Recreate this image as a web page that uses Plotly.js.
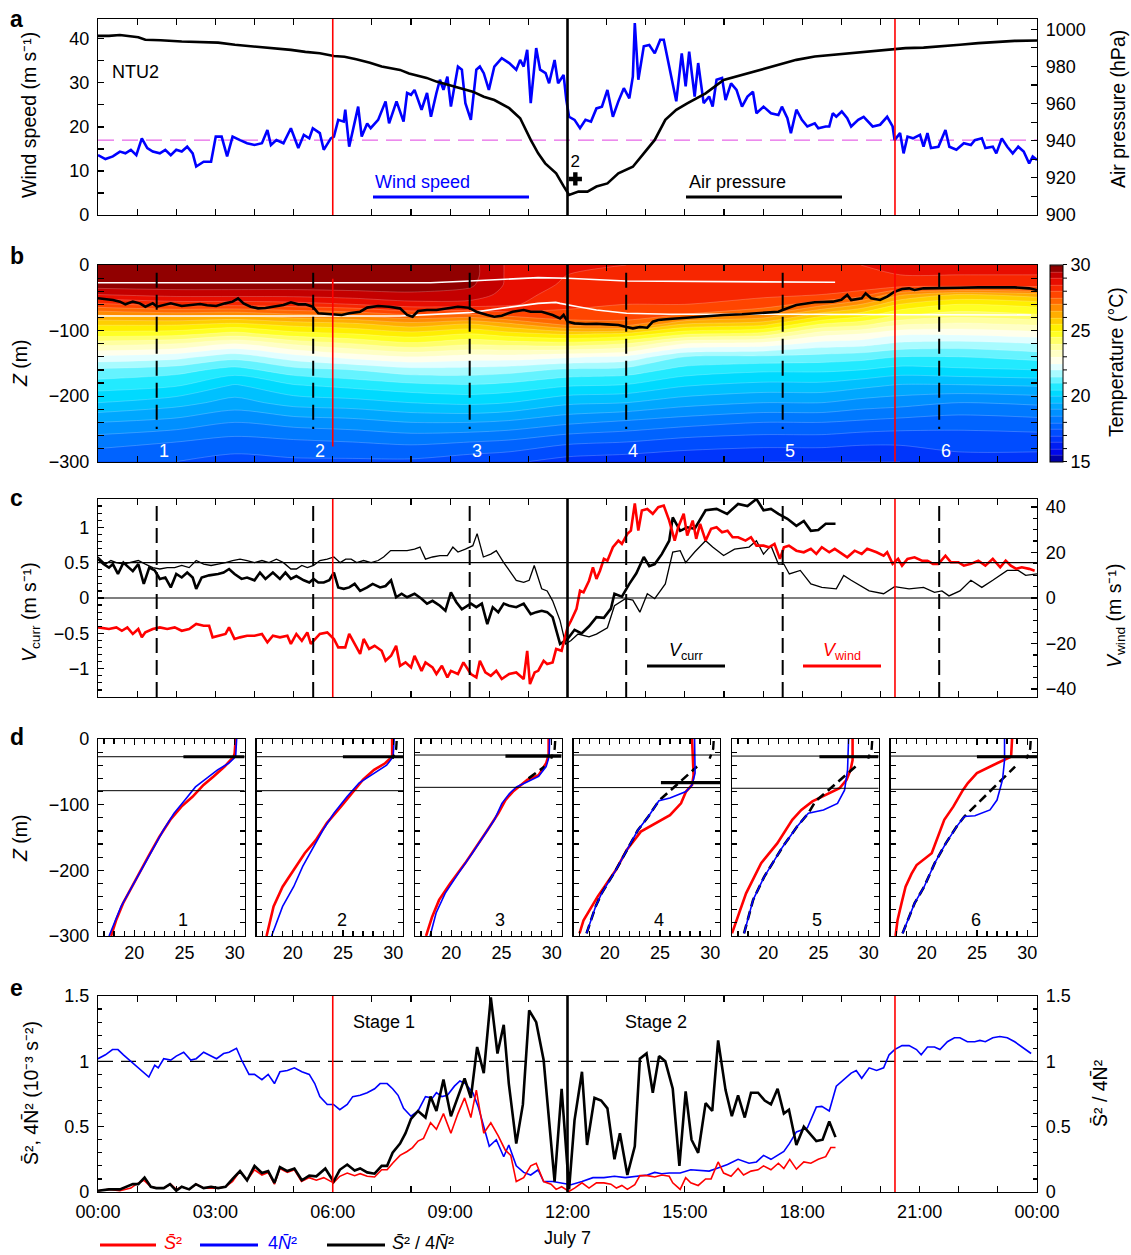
<!DOCTYPE html>
<html><head><meta charset="utf-8">
<script src="https://cdn.plot.ly/plotly-3.0.1.min.js"></script>
<style>html,body{margin:0;padding:0;background:#fff}#chart{width:1131px;height:1255px}</style>
</head><body><div id="chart"></div>
<script>
// ================= DATA =================
const tickHours = [0,3,6,9,12,15,18,21,24];
const tickLabels = ['00:00','03:00','06:00','09:00','12:00','15:00','18:00','21:00','00:00'];
const stageLines = [6.0, 20.37];
const eyeTime = 12.0;
const profileTimes = [1.5, 5.5, 9.5, 13.5, 17.5, 21.5];
const profileLabels = ['1','2','3','4','5','6'];
const windThreshold = 17.0;
const catMarkT = [12.2], catMarkP = [919.4], catMarkText = ['2'];

// panel a: wind speed (m/s) and air pressure (hPa), [hour, value]
const windSpeed = [[0.00,13.6],[0.19,12.7],[0.38,13.3],[0.56,14.4],[0.70,14.0],[0.84,14.8],[0.98,13.6],[1.12,17.4],[1.26,15.2],[1.40,14.4],[1.58,14.0],[1.72,14.8],[1.86,13.6],[2.00,14.8],[2.14,14.4],[2.28,15.5],[2.42,14.0],[2.51,11.0],[2.70,12.1],[2.89,12.1],[3.01,17.8],[3.16,17.8],[3.30,13.3],[3.44,17.8],[3.63,17.0],[3.81,16.3],[4.00,15.9],[4.19,16.3],[4.33,19.3],[4.42,15.9],[4.56,17.0],[4.74,16.3],[4.93,19.7],[5.12,15.2],[5.26,18.2],[5.40,17.4],[5.49,19.7],[5.67,18.6],[5.77,14.8],[5.95,17.4],[6.03,17.8],[6.14,21.6],[6.28,21.2],[6.32,23.9],[6.42,15.5],[6.65,24.6],[6.74,17.8],[6.88,20.8],[6.97,19.7],[7.16,21.6],[7.35,25.8],[7.44,20.8],[7.63,25.8],[7.72,23.5],[7.81,21.2],[7.90,27.7],[8.00,27.3],[8.09,28.4],[8.27,23.9],[8.41,27.7],[8.51,22.3],[8.65,27.7],[8.74,30.7],[8.83,28.4],[8.93,31.4],[9.02,24.6],[9.20,33.7],[9.30,33.0],[9.39,25.4],[9.53,21.6],[9.67,33.0],[9.76,33.7],[9.86,32.2],[9.99,28.4],[10.13,33.7],[10.32,35.6],[10.51,34.5],[10.69,33.0],[10.79,35.2],[10.88,33.7],[10.97,37.5],[11.06,25.4],[11.20,37.9],[11.30,33.0],[11.44,32.2],[11.53,29.9],[11.67,35.2],[11.76,29.9],[11.90,31.8],[11.97,26.1],[12.04,22.3],[12.18,21.6],[12.32,19.7],[12.46,21.6],[12.60,21.2],[12.74,24.2],[12.88,24.6],[13.02,28.4],[13.16,22.3],[13.30,25.8],[13.44,28.8],[13.58,26.5],[13.67,31.4],[13.72,43.6],[13.81,30.7],[13.95,38.3],[14.09,38.6],[14.23,36.7],[14.37,39.8],[14.46,39.8],[14.60,33.7],[14.78,25.8],[14.92,36.7],[15.02,29.2],[15.11,37.1],[15.25,26.9],[15.34,34.5],[15.48,25.4],[15.62,26.9],[15.71,24.6],[15.81,30.7],[15.95,31.1],[16.04,26.1],[16.18,29.9],[16.32,28.4],[16.46,24.6],[16.60,26.9],[16.74,28.0],[16.83,23.1],[17.01,24.6],[17.20,23.1],[17.39,22.7],[17.48,24.6],[17.62,22.0],[17.71,18.6],[17.85,23.9],[17.99,21.6],[18.13,20.1],[18.32,20.8],[18.41,19.7],[18.60,20.1],[18.69,20.1],[18.78,23.1],[18.87,22.3],[19.01,23.5],[19.15,22.0],[19.25,20.1],[19.43,21.6],[19.57,22.3],[19.80,20.1],[19.99,20.5],[20.17,22.3],[20.31,20.1],[20.36,17.0],[20.50,18.6],[20.59,14.0],[20.69,17.8],[20.83,17.4],[21.01,18.2],[21.10,15.5],[21.20,18.6],[21.29,15.2],[21.48,15.5],[21.66,19.3],[21.76,15.5],[21.94,14.8],[22.13,16.3],[22.31,15.9],[22.41,17.0],[22.59,17.4],[22.68,15.2],[22.87,15.5],[22.96,14.0],[23.10,17.4],[23.24,15.5],[23.38,14.0],[23.52,15.5],[23.66,14.4],[23.80,11.7],[23.89,13.3],[24.00,12.5]];
const airPressure = [[0.00,996.4],[0.28,996.4],[0.56,996.9],[0.80,996.2],[1.03,995.7],[1.21,994.3],[1.60,994.1],[2.14,993.4],[2.60,993.2],[3.07,992.8],[3.50,991.6],[3.99,990.7],[4.40,989.6],[4.93,988.9],[5.30,987.8],[5.67,987.1],[6.03,985.6],[6.30,985.2],[6.60,983.8],[6.95,982.0],[7.25,979.9],[7.72,978.1],[7.95,976.2],[8.18,974.9],[8.40,973.8],[8.65,971.8],[9.11,969.1],[9.58,966.4],[9.86,963.7],[10.13,961.9],[10.51,957.5],[10.79,952.1],[11.06,940.4],[11.25,933.2],[11.43,927.8],[11.71,922.4],[11.90,915.5],[12.04,910.8],[12.28,912.6],[12.51,912.6],[12.74,915.3],[13.02,917.0],[13.30,922.4],[13.67,926.0],[13.95,933.2],[14.23,940.4],[14.50,951.2],[14.78,956.6],[15.06,960.1],[15.53,965.5],[15.99,972.7],[16.46,975.4],[16.92,978.1],[17.39,980.8],[17.85,983.5],[18.32,985.3],[18.78,986.2],[19.25,987.4],[19.71,988.0],[20.17,988.9],[20.64,989.8],[21.10,990.1],[21.57,990.7],[22.03,991.6],[22.50,992.5],[22.96,993.0],[23.43,993.7],[24.00,993.9]];

// panel b: temperature field (°C); columns = times, rows = depths
const tempTimes = [0, 2, 3.5, 5, 6.5, 8, 9.5, 10.5, 12, 13.5, 15, 17, 18.5, 19.5, 20.5, 22, 24];
const tempDepths = [0, -15, -30, -45, -60, -75, -90, -105, -120, -140, -160, -185, -210, -240, -270, -300];
const tempProfiles = [
 [30.0,30.0,29.8,29.0,27.9,26.6,25.6,24.8,23.7,22.4,21.4,20.7,20.0,19.0,18.2,17.6],
 [30.0,30.0,29.8,29.2,28.2,26.8,25.6,24.7,23.5,22.2,21.2,20.5,19.7,18.8,18.0,17.5],
 [30.0,30.0,29.8,29.2,28.2,26.7,25.4,24.3,23.0,21.7,20.8,19.9,19.3,18.5,17.8,17.3],
 [30.0,30.0,29.8,29.2,28.3,27.0,25.7,24.8,23.6,22.3,21.3,20.4,19.7,18.7,17.9,17.4],
 [30.0,30.0,29.8,29.3,28.5,27.2,25.9,25.0,24.0,22.7,21.5,20.6,19.8,18.8,18.0,17.4],
 [29.9,29.9,29.8,29.4,28.8,27.6,26.3,25.3,24.4,23.0,21.8,20.8,20.0,19.0,18.1,17.4],
 [29.7,29.7,29.6,29.3,28.8,27.5,26.0,25.0,24.1,22.8,21.8,20.9,20.1,19.0,18.0,17.2],
 [28.9,28.9,28.9,28.8,28.6,27.8,26.4,25.3,24.2,22.8,21.7,20.8,20.0,18.9,17.9,17.1],
 [28.6,28.5,28.4,28.2,28.1,27.9,27.2,25.6,24.3,22.6,21.4,20.5,19.6,18.6,17.6,16.8],
 [28.5,28.4,28.3,28.2,28.0,27.8,27.3,25.4,24.0,22.4,21.3,20.4,19.5,18.4,17.5,16.7],
 [28.5,28.4,28.3,28.2,28.0,27.5,26.0,24.6,23.0,21.5,20.8,20.0,19.2,18.2,17.3,16.6],
 [28.5,28.4,28.3,28.1,27.8,27.0,25.7,24.3,22.8,21.4,20.6,19.8,19.0,18.0,17.2,16.5],
 [28.5,28.4,28.3,28.0,27.2,25.8,24.5,23.2,22.3,21.3,20.6,19.8,19.0,18.0,17.2,16.5],
 [28.5,28.4,28.3,27.8,26.5,25.3,24.2,23.0,22.2,21.2,20.5,19.6,18.8,17.9,17.1,16.5],
 [28.6,28.5,28.4,26.6,25.5,24.6,23.6,22.6,21.9,21.0,20.3,19.4,18.7,17.8,17.1,16.5],
 [28.6,28.5,28.4,26.0,25.0,24.3,23.4,22.6,21.8,21.0,20.4,19.4,18.5,17.7,17.2,16.8],
 [28.6,28.5,28.4,26.3,25.2,24.5,23.6,22.8,22.0,21.2,20.5,19.5,18.6,17.8,17.2,16.8]
];
const mixedLayer = [[0,-50.8],[0.19,-51.8],[0.38,-53.4],[0.56,-55.9],[0.70,-60.0],[0.89,-55.9],[1.07,-58.5],[1.21,-63.6],[1.40,-58.5],[1.51,-63.6],[1.68,-61.0],[1.86,-58.5],[2.14,-62.5],[2.33,-61.0],[2.61,-59.5],[2.79,-61.5],[3.02,-62.5],[3.25,-58.5],[3.44,-55.9],[3.58,-50.8],[3.72,-58.5],[3.90,-63.6],[4.09,-66.1],[4.28,-65.5],[4.51,-63.6],[4.74,-61.0],[4.93,-56.9],[5.12,-60.0],[5.30,-60.0],[5.49,-63.6],[5.63,-73.7],[5.86,-74.7],[6.04,-74.7],[6.23,-76.2],[6.42,-73.7],[6.70,-71.2],[6.88,-65.0],[7.16,-62.5],[7.44,-63.6],[7.72,-66.1],[7.90,-76.2],[8.04,-78.8],[8.18,-70.2],[8.41,-68.6],[8.65,-68.6],[8.93,-66.1],[9.20,-63.6],[9.48,-65.1],[9.67,-71.2],[9.95,-76.2],[10.13,-78.8],[10.32,-77.3],[10.60,-71.2],[10.88,-68.6],[11.06,-71.2],[11.34,-71.2],[11.62,-76.2],[11.81,-81.4],[11.90,-76.2],[12.00,-86.4],[12.18,-89.0],[12.46,-90.0],[12.74,-89.5],[13.02,-90.5],[13.30,-91.5],[13.51,-94.6],[13.67,-96.6],[13.85,-94.6],[14.04,-95.6],[14.18,-86.4],[14.32,-83.9],[14.60,-82.3],[15.06,-80.3],[15.53,-77.8],[16.00,-76.2],[16.46,-75.2],[16.92,-73.7],[17.39,-71.2],[17.50,-68.6],[17.85,-61.0],[18.32,-56.9],[18.78,-55.9],[19.00,-53.0],[19.15,-45.7],[19.25,-53.4],[19.52,-50.8],[19.62,-43.2],[19.76,-50.8],[19.99,-53.4],[20.17,-48.3],[20.36,-40.7],[20.55,-36.6],[20.73,-35.6],[20.87,-38.1],[21.10,-35.6],[21.57,-34.6],[22.03,-34.6],[22.50,-34.1],[22.96,-34.1],[23.43,-34.1],[23.80,-35.6],[24.00,-38.1]];
const upperWhite = [[0,-27],[8.5,-27],[9.5,-24.4],[10.5,-21],[11.25,-19.3],[12.0,-20.3],[12.6,-22],[13.5,-24.4],[18.84,-26.4]];
const lowerWhite = [[0,-77.8],[7.72,-77.8],[9.48,-72.7],[10.5,-65.1],[11.25,-58.5],[11.7,-57],[11.81,-58.5],[12.27,-63.6],[12.74,-68.6],[13.51,-73.7],[14.6,-75.2],[17.5,-75.2],[23.85,-76.2]];
const colorbarLabels = [15, 20, 25, 30];
const colorbarMinor = [16,17,18,19,21,22,23,24,26,27,28,29];

// panel c: current speed (m/s, thick & thin) and wind component (m/s)
const currThick = [[0.00,0.55],[0.14,0.48],[0.28,0.43],[0.38,0.48],[0.51,0.34],[0.65,0.50],[0.79,0.43],[0.89,0.38],[1.03,0.48],[1.17,0.20],[1.31,0.43],[1.45,0.39],[1.58,0.27],[1.72,0.29],[1.86,0.15],[2.00,0.34],[2.14,0.29],[2.28,0.36],[2.42,0.29],[2.51,0.13],[2.65,0.29],[2.84,0.32],[3.07,0.34],[3.21,0.36],[3.35,0.41],[3.49,0.34],[3.67,0.27],[3.81,0.29],[4.00,0.25],[4.14,0.36],[4.28,0.27],[4.47,0.36],[4.65,0.27],[4.79,0.36],[4.93,0.27],[5.07,0.31],[5.26,0.25],[5.40,0.22],[5.51,0.27],[5.63,0.22],[5.77,0.22],[5.91,0.25],[6.03,0.36],[6.14,0.15],[6.28,0.13],[6.42,0.15],[6.56,0.20],[6.70,0.10],[6.88,0.15],[7.02,0.20],[7.21,0.15],[7.35,0.17],[7.49,0.25],[7.62,0.01],[7.76,0.06],[7.90,0.01],[8.09,0.06],[8.27,-0.01],[8.41,-0.08],[8.55,-0.04],[8.74,-0.11],[8.88,-0.18],[9.02,0.08],[9.16,-0.06],[9.30,-0.16],[9.53,-0.08],[9.67,-0.13],[9.81,-0.08],[9.95,-0.37],[10.09,-0.13],[10.23,-0.20],[10.37,-0.08],[10.51,-0.11],[10.69,-0.13],[10.88,-0.08],[11.06,-0.23],[11.20,-0.20],[11.34,-0.18],[11.48,-0.20],[11.62,-0.27],[11.81,-0.65],[12.00,-0.58],[12.18,-0.45],[12.36,-0.50],[12.55,-0.40],[12.74,-0.27],[12.93,-0.28],[13.11,-0.15],[13.20,0.06],[13.39,0.02],[13.58,0.20],[13.76,0.35],[13.95,0.58],[14.09,0.45],[14.23,0.48],[14.41,0.62],[14.60,0.81],[14.69,1.14],[14.88,0.95],[15.06,1.00],[15.25,0.98],[15.53,1.24],[15.81,1.26],[16.08,1.19],[16.36,1.33],[16.60,1.30],[16.83,1.40],[17.01,1.24],[17.20,1.26],[17.39,1.19],[17.62,1.12],[17.85,1.02],[18.04,1.09],[18.22,0.95],[18.41,0.96],[18.60,1.05],[18.85,1.05]];
const currThin = [[0.00,0.58],[0.19,0.48],[0.33,0.53],[0.47,0.50],[0.65,0.48],[0.84,0.50],[1.03,0.53],[1.21,0.48],[1.40,0.43],[1.58,0.41],[1.77,0.43],[1.96,0.43],[2.14,0.46],[2.33,0.43],[2.51,0.53],[2.70,0.48],[2.89,0.46],[3.07,0.48],[3.26,0.50],[3.44,0.53],[3.63,0.55],[3.81,0.53],[4.00,0.50],[4.19,0.53],[4.37,0.50],[4.56,0.55],[4.74,0.50],[4.93,0.41],[5.07,0.41],[5.21,0.46],[5.35,0.43],[5.51,0.46],[5.67,0.53],[5.86,0.55],[6.03,0.58],[6.19,0.50],[6.33,0.55],[6.47,0.55],[6.61,0.50],[6.79,0.53],[6.98,0.50],[7.16,0.53],[7.30,0.58],[7.48,0.67],[7.72,0.67],[7.90,0.67],[8.09,0.69],[8.23,0.72],[8.37,0.55],[8.55,0.58],[8.74,0.60],[8.93,0.60],[9.07,0.72],[9.20,0.65],[9.39,0.69],[9.58,0.74],[9.69,0.91],[9.85,0.58],[10.04,0.62],[10.18,0.67],[10.37,0.50],[10.51,0.39],[10.69,0.25],[10.88,0.22],[11.02,0.25],[11.15,0.46],[11.34,0.13],[11.48,0.10],[11.62,-0.04],[11.81,-0.32],[11.95,-0.65],[12.09,-0.60],[12.27,-0.51],[12.55,-0.55],[12.74,-0.51],[13.02,-0.42],[13.20,-0.11],[13.48,-0.01],[13.67,-0.03],[13.85,-0.20],[14.04,0.06],[14.23,-0.01],[14.50,0.20],[14.69,0.65],[14.88,0.67],[15.02,0.50],[15.25,0.65],[15.53,0.81],[15.71,0.72],[15.99,0.60],[16.27,0.69],[16.64,0.72],[16.83,0.81],[17.01,0.62],[17.20,0.74],[17.39,0.48],[17.53,0.48],[17.67,0.34],[17.95,0.39],[18.22,0.20],[18.50,0.15],[18.87,0.13],[19.06,0.32],[19.25,0.25],[19.71,0.10],[20.08,0.06],[20.36,0.16],[20.73,0.13],[21.10,0.15],[21.38,0.08],[21.57,0.10],[21.75,0.03],[22.03,0.10],[22.31,0.25],[22.59,0.15],[22.87,0.25],[23.24,0.39],[23.52,0.39],[23.71,0.32],[24.00,0.34]];
const windVel = [[0.00,-12.9],[0.28,-13.6],[0.47,-12.9],[0.61,-14.4],[0.75,-12.9],[0.89,-15.8],[1.03,-13.6],[1.12,-17.3],[1.21,-15.1],[1.40,-13.6],[1.58,-12.9],[1.77,-13.6],[1.96,-12.9],[2.14,-14.4],[2.33,-13.6],[2.51,-11.4],[2.70,-12.2],[2.84,-12.2],[2.93,-17.3],[3.07,-16.6],[3.26,-15.8],[3.35,-12.9],[3.49,-18.0],[3.63,-17.3],[3.81,-16.6],[4.00,-16.6],[4.19,-15.8],[4.33,-19.5],[4.47,-16.6],[4.65,-17.3],[4.84,-16.6],[4.93,-20.2],[5.07,-15.8],[5.21,-18.8],[5.35,-15.1],[5.44,-20.2],[5.58,-17.3],[5.67,-15.8],[5.86,-15.1],[6.03,-18.0],[6.14,-21.7],[6.32,-21.7],[6.42,-15.8],[6.56,-20.2],[6.70,-24.6],[6.79,-18.0],[6.93,-22.4],[7.07,-21.0],[7.25,-23.2],[7.35,-27.6],[7.49,-25.4],[7.62,-21.0],[7.72,-29.8],[7.86,-28.3],[8.00,-30.5],[8.09,-25.4],[8.27,-32.0],[8.37,-28.3],[8.55,-30.5],[8.65,-33.4],[8.79,-29.8],[8.93,-34.9],[9.02,-32.0],[9.20,-33.4],[9.34,-28.3],[9.53,-33.4],[9.67,-34.9],[9.76,-27.6],[9.90,-32.7],[10.04,-34.2],[10.18,-32.0],[10.32,-35.6],[10.51,-33.4],[10.69,-32.7],[10.88,-35.6],[10.97,-23.2],[11.04,-37.8],[11.16,-32.7],[11.25,-32.0],[11.39,-27.6],[11.48,-29.0],[11.62,-28.3],[11.71,-22.4],[11.85,-23.2],[12.00,-12.9],[12.09,-10.0],[12.23,-4.8],[12.32,3.2],[12.41,2.5],[12.55,7.6],[12.65,13.5],[12.74,8.4],[12.83,12.0],[12.93,17.2],[13.02,16.4],[13.16,22.3],[13.30,25.2],[13.39,23.8],[13.53,28.2],[13.62,29.6],[13.72,41.6],[13.81,29.6],[13.90,38.4],[14.04,39.1],[14.18,37.0],[14.32,39.9],[14.46,40.6],[14.60,34.0],[14.74,25.2],[14.83,31.1],[14.97,37.0],[15.06,27.4],[15.20,34.0],[15.29,26.0],[15.39,32.6],[15.53,25.2],[15.67,30.4],[15.81,31.1],[15.95,28.9],[16.09,29.6],[16.22,26.7],[16.36,26.7],[16.55,25.2],[16.69,26.7],[16.83,23.0],[17.01,23.0],[17.15,22.3],[17.29,23.8],[17.43,17.2],[17.53,22.3],[17.66,23.0],[17.85,20.8],[18.04,20.1],[18.22,21.6],[18.36,19.4],[18.50,22.3],[18.69,20.1],[18.83,21.6],[18.97,20.1],[19.15,17.9],[19.34,20.8],[19.52,19.4],[19.66,21.6],[19.90,20.1],[20.08,18.6],[20.17,20.1],[20.31,15.0],[20.45,17.2],[20.55,14.2],[20.69,17.2],[20.87,17.9],[21.06,16.4],[21.20,16.4],[21.34,15.0],[21.48,15.0],[21.66,18.6],[21.80,15.7],[21.99,15.7],[22.13,14.2],[22.31,15.0],[22.50,16.4],[22.68,14.2],[22.87,17.2],[23.06,13.5],[23.20,16.4],[23.33,14.2],[23.47,12.8],[23.61,13.5],[23.80,12.8],[23.94,12.0]];

// panel d: temperature profiles (°C vs depth m)
const profRedT = [
 [30.1,30.0,29.9,29.0,27.9,26.9,25.8,24.7,23.6,22.5,21.4,20.5,19.6,18.9,18.2,17.7],
 [29.9,29.9,29.2,28.1,27.0,25.9,24.8,23.4,22.3,21.2,20.1,19.0,18.1,17.75,17.4],
 [29.7,29.7,29.45,28.7,27.6,26.9,26.15,25.4,24.7,23.6,22.5,21.4,19.9,18.8,18.1,17.5],
 [28.2,28.25,28.35,28.2,27.6,27.1,26.0,23.1,21.7,20.6,19.5,18.8,17.4,17.0],
 [28.4,28.4,28.2,27.8,27.1,25.8,24.4,23.3,22.4,20.9,19.3,17.8,17.1,16.4],
 [28.5,28.4,27.0,25.0,24.1,23.6,22.65,21.75,20.5,19.0,18.5,17.9,17.5,17.1,16.9]
];
const profRedZ = [
 [0,-22,-27,-42,-57,-70,-88,-103,-123,-149,-179,-205,-230,-250,-276,-300],
 [0,-27,-37,-47,-62,-83,-103,-128,-154,-174,-199,-225,-255,-276,-300],
 [0,-24,-37,-55,-62,-70,-80,-93,-113,-139,-164,-189,-220,-245,-271,-300],
 [0,-22,-55,-70,-80,-98,-116,-141,-169,-200,-225,-240,-276,-296],
 [0,-32,-47,-62,-75,-85,-95,-108,-123,-159,-189,-235,-265,-296],
 [0,-27,-37,-52,-67,-78,-103,-123,-174,-192,-205,-225,-250,-276,-300]
];
const profBlueT = [
 [30.2,30.1,29.4,28.3,27.2,26.1,25.05,23.97,22.9,21.8,20.7,19.6,18.7,17.5],
 [30.1,30.0,29.35,28.1,26.6,25.4,24.1,23.0,21.9,21.0,20.1,19.0,17.9],
 [29.8,29.75,29.45,28.7,27.6,26.5,25.8,25.05,24.3,23.2,22.1,20.7,19.4,18.5,17.9],
 [28.45,28.5,28.5,28.2,27.6,26.0,24.9,23.85,22.8,21.9,20.6,19.2,18.6,17.7],
 [28.0,27.9,27.6,26.9,25.5,24.0,22.9,21.45,19.6,18.5,17.6],
 [27.75,27.75,27.55,27.0,26.3,24.8,23.75,23.0,21.9,20.8,19.75,18.8,17.6]
];
const profBlueZ = [
 [0,-27,-37,-47,-60,-73,-93,-113,-139,-169,-199,-230,-255,-300],
 [0,-27,-40,-52,-67,-88,-113,-139,-169,-194,-225,-255,-300],
 [0,-27,-42,-57,-65,-73,-83,-98,-123,-149,-174,-205,-235,-265,-300],
 [0,-32,-52,-70,-80,-90,-94,-118,-139,-164,-200,-235,-255,-296],
 [0,-47,-78,-98,-108,-113,-133,-164,-210,-245,-296],
 [0,-32,-62,-93,-108,-117,-118,-133,-159,-189,-225,-250,-296]
];
const profDashT = [
 [],
 [],
 [27.7,29.3],
 [17.7,18.6,19.2,20.6,21.9,22.8,23.85,24.9,28.7],
 [17.6,18.5,19.6,21.45,22.9,24.0,24.7,28.7],
 [17.6,18.8,19.75,20.8,21.9,23.0,23.75,28.8]
];
const profDashZ = [
 [],
 [],
 [-60,-42],
 [-296,-255,-235,-200,-164,-139,-118,-94,-42],
 [-296,-245,-210,-164,-133,-113,-95,-42],
 [-296,-250,-225,-189,-159,-133,-118,-42]
];
const capT = [30.35, 30.3, 29.95];
const capZ = [-3, -15, -30];
const capProfiles = [1, 2, 3, 4, 5];
const thickStartT = [24.9, 25.0, 25.4, 25.1, 25.1, 25.0];
const thickEndT = 31;
const thickZ = [-27, -27, -26, -66.5, -27, -27];
const thinUpperZ = [-27, -27, -24.4, -24.4, -26, -26];
const thinLowerZ = [-78.7, -78.7, -73.6, -74, -75, -76.6];

// panel e: shear S^2, 4N^2 (1e-3 s^-2) and ratio
const shearSq = [[0.00,0.01],[0.28,0.02],[0.56,0.01],[0.84,0.03],[0.98,0.06],[1.17,0.09],[1.35,0.04],[1.49,0.03],[1.68,0.03],[1.86,0.06],[2.00,0.02],[2.14,0.04],[2.33,0.02],[2.51,0.06],[2.70,0.03],[2.89,0.03],[3.07,0.03],[3.26,0.04],[3.44,0.08],[3.63,0.16],[3.81,0.09],[4.00,0.17],[4.19,0.13],[4.35,0.15],[4.51,0.06],[4.65,0.18],[4.84,0.15],[5.02,0.17],[5.20,0.08],[5.40,0.11],[5.58,0.09],[5.77,0.11],[6.02,0.07],[6.18,0.12],[6.37,0.145],[6.56,0.125],[6.70,0.14],[6.88,0.12],[7.07,0.115],[7.25,0.17],[7.39,0.17],[7.53,0.22],[7.72,0.28],[7.90,0.31],[8.04,0.34],[8.18,0.39],[8.32,0.41],[8.50,0.53],[8.65,0.48],[8.83,0.60],[9.02,0.45],[9.20,0.60],[9.37,0.72],[9.53,0.57],[9.67,0.78],[9.86,0.45],[10.04,0.53],[10.23,0.43],[10.41,0.32],[10.55,0.28],[10.69,0.08],[10.88,0.11],[11.06,0.20],[11.20,0.22],[11.39,0.08],[11.58,0.06],[11.71,0.02],[11.85,0.04],[12.04,0.005],[12.18,0.03],[12.37,0.07],[12.55,0.03],[12.74,0.07],[12.93,0.07],[13.11,0.06],[13.25,0.03],[13.39,0.05],[13.53,0.02],[13.72,0.056],[13.85,0.125],[14.04,0.125],[14.23,0.115],[14.41,0.13],[14.60,0.12],[14.69,0.07],[14.88,0.02],[15.02,0.11],[15.15,0.07],[15.34,0.05],[15.53,0.10],[15.67,0.10],[15.85,0.23],[15.99,0.145],[16.18,0.12],[16.36,0.18],[16.50,0.13],[16.69,0.16],[16.87,0.17],[17.01,0.20],[17.20,0.17],[17.39,0.22],[17.53,0.18],[17.68,0.25],[17.85,0.175],[18.04,0.23],[18.22,0.22],[18.41,0.25],[18.60,0.27],[18.73,0.34],[18.85,0.34]];
const stratSq4 = [[0.00,1.02],[0.19,1.05],[0.37,1.09],[0.51,1.09],[0.65,1.05],[0.84,1.00],[1.02,0.95],[1.16,0.91],[1.30,0.88],[1.45,0.97],[1.54,0.95],[1.68,1.02],[1.86,1.01],[2.00,1.04],[2.19,1.07],[2.37,1.01],[2.51,1.02],[2.70,1.07],[2.84,1.05],[3.03,1.02],[3.21,1.06],[3.35,1.07],[3.54,1.10],[3.67,1.01],[3.86,0.90],[4.00,0.90],[4.19,0.86],[4.35,0.90],[4.51,0.83],[4.65,0.92],[4.84,0.93],[5.02,0.95],[5.21,0.92],[5.40,0.90],[5.54,0.83],[5.67,0.73],[5.86,0.67],[6.02,0.67],[6.18,0.63],[6.37,0.67],[6.51,0.73],[6.70,0.74],[6.88,0.76],[7.07,0.79],[7.21,0.83],[7.39,0.83],[7.53,0.79],[7.67,0.74],[7.81,0.64],[8.00,0.58],[8.18,0.62],[8.37,0.73],[8.55,0.72],[8.65,0.76],[8.79,0.73],[8.93,0.74],[9.11,0.81],[9.25,0.85],[9.39,0.83],[9.58,0.76],[9.72,0.65],[9.86,0.50],[10.00,0.35],[10.18,0.40],[10.37,0.27],[10.50,0.36],[10.69,0.20],[10.88,0.15],[11.06,0.13],[11.25,0.17],[11.39,0.08],[11.62,0.08],[11.85,0.07],[12.09,0.056],[12.37,0.08],[12.65,0.11],[12.93,0.11],[13.20,0.12],[13.48,0.11],[13.76,0.12],[14.04,0.13],[14.23,0.15],[14.41,0.14],[14.60,0.145],[14.88,0.145],[15.15,0.17],[15.43,0.165],[15.62,0.16],[15.81,0.18],[16.09,0.21],[16.36,0.25],[16.64,0.22],[16.83,0.23],[17.01,0.28],[17.20,0.25],[17.39,0.285],[17.53,0.31],[17.67,0.37],[17.85,0.46],[18.13,0.49],[18.36,0.65],[18.50,0.655],[18.69,0.62],[18.87,0.81],[19.06,0.86],[19.25,0.91],[19.38,0.93],[19.52,0.87],[19.71,0.95],[19.90,0.93],[20.08,0.95],[20.22,1.05],[20.36,1.09],[20.55,1.12],[20.73,1.12],[20.92,1.09],[21.04,1.05],[21.20,1.11],[21.38,1.11],[21.52,1.09],[21.71,1.15],[21.89,1.18],[22.03,1.18],[22.22,1.15],[22.41,1.15],[22.54,1.16],[22.68,1.15],[22.87,1.18],[23.05,1.19],[23.24,1.18],[23.43,1.15],[23.61,1.11],[23.85,1.06]];
const richRatio = [[0.00,0.01],[0.28,0.02],[0.56,0.02],[0.75,0.04],[0.89,0.06],[1.03,0.06],[1.19,0.11],[1.35,0.04],[1.49,0.03],[1.68,0.03],[1.84,0.06],[2.00,0.01],[2.14,0.04],[2.33,0.02],[2.50,0.06],[2.70,0.03],[2.89,0.04],[3.07,0.03],[3.26,0.04],[3.44,0.10],[3.63,0.16],[3.81,0.09],[4.00,0.20],[4.19,0.145],[4.35,0.16],[4.51,0.07],[4.65,0.19],[4.84,0.16],[5.02,0.18],[5.21,0.09],[5.40,0.125],[5.58,0.12],[5.81,0.18],[6.02,0.08],[6.18,0.17],[6.37,0.21],[6.56,0.165],[6.70,0.18],[6.88,0.15],[7.07,0.14],[7.25,0.20],[7.39,0.20],[7.53,0.30],[7.72,0.37],[7.86,0.45],[8.00,0.56],[8.18,0.62],[8.37,0.57],[8.50,0.73],[8.65,0.62],[8.83,0.86],[9.02,0.58],[9.20,0.73],[9.37,0.87],[9.53,0.72],[9.69,1.11],[9.86,0.91],[10.04,1.49],[10.21,1.06],[10.37,1.28],[10.50,0.83],[10.69,0.37],[10.86,0.67],[11.02,1.39],[11.20,1.30],[11.39,1.01],[11.67,0.08],[11.85,0.79],[12.04,0.02],[12.18,0.55],[12.37,0.92],[12.50,0.36],[12.69,0.72],[12.86,0.70],[13.02,0.64],[13.20,0.25],[13.34,0.45],[13.53,0.13],[13.72,0.35],[13.85,1.02],[14.02,1.06],[14.18,0.76],[14.34,1.04],[14.50,1.00],[14.69,0.79],[14.86,0.20],[15.02,0.77],[15.17,0.40],[15.34,0.30],[15.53,0.68],[15.70,0.62],[15.85,1.16],[16.04,0.78],[16.20,0.58],[16.36,0.74],[16.53,0.57],[16.69,0.76],[16.87,0.76],[17.04,0.70],[17.20,0.67],[17.37,0.79],[17.53,0.60],[17.66,0.63],[17.85,0.36],[18.04,0.50],[18.22,0.44],[18.36,0.39],[18.52,0.40],[18.69,0.54],[18.85,0.42]];
const criticalRatio = 1;

// ================= FIGURE =================
const W = 1131, H = 1255;
const ML = 98, MR = 94, MT = 19, MB = 63;
const IW = W - ML - MR, IH = H - MT - MB;
const px = x => (x - ML) / IW;
const py = y => (H - MB - y) / IH;
const FONT = 'Liberation Sans, Arial, Helvetica, sans-serif';
const xs = a => a.map(p => p[0]);
const ys = a => a.map(p => p[1]);

const dom = {
  a: [py(215), py(19)],
  b: [py(461.7), py(265)],
  c: [py(697), py(499)],
  d: [py(936), py(739)],
  e: [py(1192), py(996)]
};
const CB = {x0:1050, x1:1063, top:265, bottom:461.7};

const traces = [];
// ---- panel a
traces.push({type:'scatter', mode:'lines', x:xs(windSpeed), y:ys(windSpeed), xaxis:'x', yaxis:'y', line:{color:'#0000ff', width:2.6}});
traces.push({type:'scatter', mode:'lines', x:xs(airPressure), y:ys(airPressure), xaxis:'x', yaxis:'y2', line:{color:'black', width:2.6}});
traces.push({type:'scatter', mode:'markers+text', x:catMarkT, y:catMarkP, xaxis:'x', yaxis:'y2', marker:{symbol:'cross', size:11, color:'black'}, text:catMarkText, textposition:'top center', textfont:{size:17, color:'black'}});

// ---- panel b
const tempGrid = tempDepths.map((_, i) => tempTimes.map((_, j) => tempProfiles[j][i]));
const tempScale = [
  [0, '#00007a'], [0.04, '#0000e6'], [0.1333, '#0040ff'], [0.2667, '#009cff'],
  [0.3667, '#00e6ff'], [0.45, '#a8fbff'], [0.5, '#ffffff'], [0.6, '#ffff8c'],
  [0.6667, '#ffff00'], [0.7333, '#ffbf00'], [0.8, '#ff7a00'], [0.8667, '#ff3300'],
  [0.9333, '#e00000'], [0.9667, '#a80000'], [1, '#7a0000']
];
traces.push({type:'contour', x:tempTimes, y:tempDepths, z:tempGrid, xaxis:'x2', yaxis:'y3',
  zmin:15, zmax:30, autocontour:false, colorscale:tempScale,
  contours:{start:15, end:30, size:0.5, coloring:'fill', showlines:true},
  line:{color:'rgba(255,255,255,0.35)', width:0.6, smoothing:0.8},
  colorbar:{x:px(CB.x0), xanchor:'left', y:py((CB.top + CB.bottom) / 2), yanchor:'middle', len:(CB.bottom - CB.top)/IH, lenmode:'fraction',
    thickness:CB.x1 - CB.x0, thicknessmode:'pixels', outlinewidth:1, outlinecolor:'black', xpad:0, ypad:0,
    tickmode:'array', tickvals:colorbarLabels, ticktext:colorbarLabels.map(String),
    ticks:'outside', ticklen:4, tickcolor:'black', tickfont:{size:18, color:'black'}},
  hoverinfo:'skip'});
traces.push({type:'scatter', mode:'lines', x:xs(upperWhite), y:ys(upperWhite), xaxis:'x2', yaxis:'y3', line:{color:'white', width:1.6}});
traces.push({type:'scatter', mode:'lines', x:xs(lowerWhite), y:ys(lowerWhite), xaxis:'x2', yaxis:'y3', line:{color:'white', width:1.6}});
traces.push({type:'scatter', mode:'lines', x:xs(mixedLayer), y:ys(mixedLayer), xaxis:'x2', yaxis:'y3', line:{color:'black', width:2.6}});

// ---- panel c
traces.push({type:'scatter', mode:'lines', x:xs(currThin), y:ys(currThin), xaxis:'x3', yaxis:'y4', line:{color:'black', width:1.3}});
traces.push({type:'scatter', mode:'lines', x:xs(currThick), y:ys(currThick), xaxis:'x3', yaxis:'y4', line:{color:'black', width:2.6}});
traces.push({type:'scatter', mode:'lines', x:xs(windVel), y:ys(windVel), xaxis:'x3', yaxis:'y5', line:{color:'#ff0000', width:2.6}});

// ---- panel d
const dStart = [98, 256.5, 415, 573.5, 732, 890.5];
const dWidth = 146.5;
for (let k = 0; k < 6; k++) {
  const xa = 'x' + (4 + k), ya = 'y' + (6 + k);
  traces.push({type:'scatter', mode:'lines', x:profRedT[k], y:profRedZ[k], xaxis:xa, yaxis:ya, line:{color:'#ff0000', width:2.6}});
  if (profDashT[k].length) traces.push({type:'scatter', mode:'lines', x:profDashT[k], y:profDashZ[k], xaxis:xa, yaxis:ya, line:{color:'black', width:2.6, dash:'9px,5px'}});
  traces.push({type:'scatter', mode:'lines', x:profBlueT[k], y:profBlueZ[k], xaxis:xa, yaxis:ya, line:{color:'#0000ff', width:1.6}});
  if (capProfiles.indexOf(k) >= 0) traces.push({type:'scatter', mode:'lines', x:capT, y:capZ, xaxis:xa, yaxis:ya, line:{color:'black', width:2.4, dash:'9px,5px'}});
  traces.push({type:'scatter', mode:'lines', x:[thickStartT[k], thickEndT], y:[thickZ[k], thickZ[k]], xaxis:xa, yaxis:ya, line:{color:'black', width:3.2}});
}

// ---- panel e
traces.push({type:'scatter', mode:'lines', x:xs(stratSq4), y:ys(stratSq4), xaxis:'x10', yaxis:'y12', line:{color:'#0000ff', width:1.6}});
traces.push({type:'scatter', mode:'lines', x:xs(shearSq), y:ys(shearSq), xaxis:'x10', yaxis:'y12', line:{color:'#ff0000', width:1.6}});
traces.push({type:'scatter', mode:'lines', x:xs(richRatio), y:ys(richRatio), xaxis:'x10', yaxis:'y13', line:{color:'black', width:2.6}});

// ================= LAYOUT =================
const axBase = {showline:true, linecolor:'black', linewidth:1.2, ticks:'inside', tickcolor:'black', tickwidth:1.2, ticklen:6,
  zeroline:false, showgrid:false, fixedrange:true, tickfont:{size:18, color:'black', family:FONT}};
const minorT = (dt, len) => ({dtick:dt, ticks:'inside', ticklen:len || 6, tickcolor:'black', tickwidth:1.2, showgrid:false});
function timeX(anchor, labels) {
  return Object.assign({}, axBase, {anchor, domain:[0, 1], range:[0, 24], tickmode:'array', tickvals:tickHours, ticktext:tickLabels,
    showticklabels:labels, mirror:'ticks', minor:Object.assign(minorT(1), {tick0:0}), ticklabelstandoff:3});
}
const layout = {
  width:W, height:H, margin:{l:ML, r:MR, t:MT, b:MB}, paper_bgcolor:'white', plot_bgcolor:'white', showlegend:false,
  font:{family:FONT, size:18, color:'black'},
  xaxis: timeX('y', false),
  yaxis: Object.assign({}, axBase, {domain:dom.a, anchor:'x', range:[0, 44.5], tick0:0, dtick:10, minor:minorT(5), ticklabelstandoff:4}),
  yaxis2: Object.assign({}, axBase, {overlaying:'y', anchor:'x', side:'right', range:[900, 1005.5], tick0:900, dtick:20, minor:minorT(10), ticklabelstandoff:4}),
  xaxis2: timeX('y3', false),
  yaxis3: Object.assign({}, axBase, {domain:dom.b, anchor:'x2', range:[-300, 0], tick0:0, dtick:100, minor:minorT(20), mirror:'ticks', ticklabelstandoff:4}),
  xaxis3: timeX('y4', false),
  yaxis4: Object.assign({}, axBase, {domain:dom.c, anchor:'x3', range:[-1.4, 1.4], tick0:0, dtick:0.5, minor:minorT(0.1, 4), ticklabelstandoff:4}),
  yaxis5: Object.assign({}, axBase, {overlaying:'y4', anchor:'x3', side:'right', range:[-43.5, 43.5], tick0:0, dtick:20, minor:minorT(5, 4), ticklabelstandoff:4}),
  xaxis10: timeX('y12', true),
  yaxis12: Object.assign({}, axBase, {domain:dom.e, anchor:'x10', range:[0, 1.5], tick0:0, dtick:0.5, minor:minorT(0.1, 4), ticklabelstandoff:4}),
  yaxis13: Object.assign({}, axBase, {overlaying:'y12', anchor:'x10', side:'right', range:[0, 1.5], tick0:0, dtick:0.5, minor:minorT(0.1, 4), ticklabelstandoff:4}),
  shapes: [], annotations: []
};
for (let k = 0; k < 6; k++) {
  layout['xaxis' + (4 + k)] = Object.assign({}, axBase, {anchor:'y' + (6 + k), domain:[px(dStart[k]), px(dStart[k] + dWidth)], range:[16.4, 30.98],
    tickmode:'array', tickvals:[20, 25, 30], minor:minorT(1, 5), mirror:'ticks', ticklabelstandoff:0});
  layout['yaxis' + (6 + k)] = Object.assign({}, axBase, {anchor:'x' + (4 + k), domain:dom.d, range:[-300, 0], tick0:0, dtick:100,
    minor:minorT(20, 5), mirror:'ticks', showticklabels:k === 0, ticklabelstandoff:4});
}

// ---- shapes
const S = layout.shapes;
const vline = (xref, yref, x, y0, y1, color, width, dash) => ({type:'line', xref, yref, x0:x, x1:x, y0, y1, line:{color, width, dash:dash || 'solid'}});
const hline = (xref, yref, y, x0, x1, color, width, dash, layer) => ({type:'line', xref, yref, x0, x1, y0:y, y1:y, line:{color, width, dash:dash || 'solid'}, layer:layer || 'above'});
const pline = (x0, x1, y, color, w) => ({type:'line', xref:'paper', yref:'paper', x0:px(x0), x1:px(x1), y0:py(y), y1:py(y), line:{color, width:w || 3}});
// a
S.push(hline('x domain', 'y', windThreshold, 0, 1, '#e040e0', 1, '16px,8px', 'below'));
stageLines.forEach(t => S.push(vline('x', 'y domain', t, 0, 1, '#ff0000', 1.6)));
S.push(vline('x', 'y domain', eyeTime, 0, 1, 'black', 2.6));
S.push(pline(373, 529, 197, '#0000ff'));
S.push(pline(686, 842, 197, 'black'));
// b
profileTimes.forEach(t => S.push(vline('x2', 'y3', t, -12, -250, 'black', 2, '15px,7px')));
S.push(vline('x2', 'y3', stageLines[0], -21, -277, '#ff0000', 1.6));
S.push(vline('x2', 'y3 domain', stageLines[1], 0, 1, '#ff0000', 1.6));
S.push(vline('x2', 'y3 domain', eyeTime, 0, 1, 'black', 2.6));
colorbarMinor.forEach(v => {
  const yy = CB.bottom - (v - 15) / 15 * (CB.bottom - CB.top);
  S.push(pline(CB.x1, CB.x1 + 4, yy, 'black', 1));
});
// c
S.push(hline('x3 domain', 'y4', 0, 0, 1, 'black', 1.2));
S.push(hline('x3 domain', 'y4', 0.5, 0, 1, 'black', 1.2));
profileTimes.forEach(t => S.push(vline('x3', 'y4 domain', t, 0, 1, 'black', 2, '15px,7px')));
stageLines.forEach(t => S.push(vline('x3', 'y4 domain', t, 0, 1, '#ff0000', 1.6)));
S.push(vline('x3', 'y4 domain', eyeTime, 0, 1, 'black', 2.6));
S.push(pline(647, 725, 666, 'black'));
S.push(pline(803, 881, 666, '#ff0000'));
// d
for (let k = 0; k < 6; k++) {
  S.push(hline('x' + (4 + k) + ' domain', 'y' + (6 + k), thinUpperZ[k], 0, 1, 'black', 1));
  S.push(hline('x' + (4 + k) + ' domain', 'y' + (6 + k), thinLowerZ[k], 0, 1, 'black', 1));
}
// e
S.push(hline('x10 domain', 'y12', criticalRatio, 0, 1, 'black', 1.2, '15px,8px', 'below'));
stageLines.forEach(t => S.push(vline('x10', 'y12 domain', t, 0, 1, '#ff0000', 1.6)));
S.push(vline('x10', 'y12 domain', eyeTime, 0, 1, 'black', 2.6));
S.push(pline(100, 156, 1245, '#ff0000'));
S.push(pline(200, 258, 1245, '#0000ff'));
S.push(pline(327, 385, 1245, 'black'));

// ---- annotations
const A = layout.annotations;
const note = (x, y, text, o) => Object.assign({xref:'paper', yref:'paper', x:px(x), y:py(y), text, showarrow:false,
  xanchor:'center', yanchor:'middle', font:{size:18, color:'black', family:FONT}}, o || {});
const vtitle = (x, y, text) => note(x, y, text, {textangle:-90, font:{size:19.5, color:'black', family:FONT}});
[['a', 18.5], ['b', 256], ['c', 498], ['d', 737], ['e', 988]].forEach(([l, y]) =>
  A.push(note(16.5, y, '<b>' + l + '</b>', {font:{size:23, color:'black', family:FONT}})));
A.push(vtitle(29, 115, 'Wind speed (m s\u207B\u00B9)'));
A.push(vtitle(1118, 109, 'Air pressure (hPa)'));
A.push(vtitle(20, 363, '<i>Z</i> (m)'));
A.push(vtitle(1116, 362, 'Temperature (°C)'));
A.push(vtitle(30, 612, '<i>V</i><sub>curr</sub> (m s\u207B\u00B9)'));
A.push(vtitle(1115, 616, '<i>V</i><sub>wind</sub> (m s\u207B\u00B9)'));
A.push(vtitle(20, 838, '<i>Z</i> (m)'));
A.push(vtitle(31, 1093, 'S\u0304\u00B2, 4N\u0304\u00B2 (10\u207B\u00B3 s\u207B\u00B2)'));
A.push(vtitle(1100, 1093, 'S\u0304\u00B2 / 4N\u0304\u00B2'));
A.push(note(110, 72, 'NTU2', {xanchor:'left'}));
A.push(note(373, 182, 'Wind speed', {xanchor:'left', font:{size:18, color:'#0000ff', family:FONT}}));
A.push(note(687, 182, 'Air pressure', {xanchor:'left'}));
profileTimes.forEach((t, i) => A.push({xref:'x2', yref:'y3', x:t, y:-284, xshift:7, text:profileLabels[i], showarrow:false,
  font:{size:18, color:'white', family:FONT}}));
A.push(note(686, 651, '<i>V</i><sub>curr</sub>'));
A.push(note(842, 651, '<i>V</i><sub>wind</sub>', {font:{size:18, color:'#ff0000', family:FONT}}));
profileLabels.forEach((lab, k) => A.push({xref:'x' + (4 + k), yref:'y' + (6 + k), x:24.9, y:-276, text:lab, showarrow:false,
  font:{size:18, color:'black', family:FONT}}));
A.push(note(384, 1022, 'Stage 1'));
A.push(note(656, 1022, 'Stage 2'));
A.push(note(567, 1238, 'July 7'));
A.push(note(162, 1243, '<i>S\u0304</i>\u00B2', {xanchor:'left', font:{size:18, color:'#ff0000', family:FONT}}));
A.push(note(266, 1243, '4<i>N\u0304</i>\u00B2', {xanchor:'left', font:{size:18, color:'#0000ff', family:FONT}}));
A.push(note(390, 1243, '<i>S\u0304</i>\u00B2 / 4<i>N\u0304</i>\u00B2', {xanchor:'left', font:{size:18, color:'black', family:FONT}}));

Plotly.newPlot('chart', traces, layout, {displayModeBar:false, staticPlot:true});
</script></body></html>
